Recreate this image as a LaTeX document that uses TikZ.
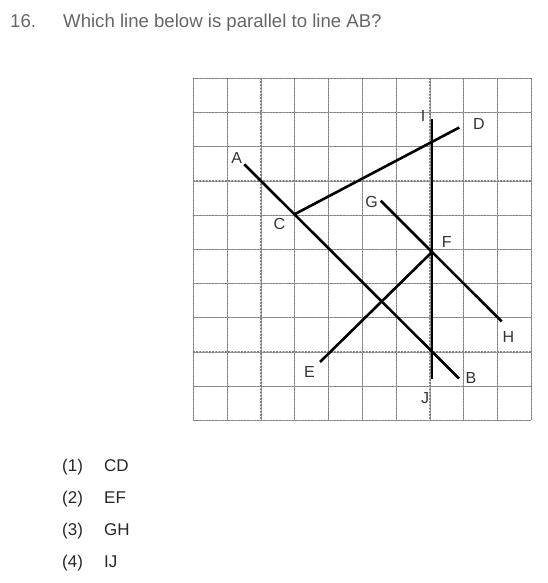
\documentclass[tikz,border=0pt]{standalone}
\usepackage{fontspec}
\setmainfont{Liberation Sans}
\begin{document}
\begin{tikzpicture}[x=1pt,y=-1pt,
  gridline/.style={draw=black!50,line width=1.2pt,dotted,line cap=round},
  gridsolid/.style={draw=black!35,line width=0.7pt},
  seg/.style={draw=black,line width=2.6pt},
  lbl/.style={inner sep=0pt,font=\fontsize{16}{19}\selectfont,text=black!80},
  txt/.style={inner sep=0pt,anchor=base west,font=\fontsize{17}{20}\selectfont},
  ttl/.style={inner sep=0pt,anchor=base west,font=\fontsize{18.6}{22}\selectfont,text=black!60}]
\useasboundingbox (0,0) rectangle (548,583);
% title
\node[ttl] (num) at (10,28) {16.};
\node[ttl] (title) at (63,28) {Which line below is parallel to line AB?};
% grid
\foreach \i in {0,...,10}{
  \draw[gridsolid] ({193.3+33.8*\i},78.3) -- ({193.3+33.8*\i},420.3);
  \draw[gridline] ({193.3+33.8*\i},78.3) -- ({193.3+33.8*\i},420.3);
  \draw[gridsolid] (193.3,{78.3+34.2*\i}) -- (531.3,{78.3+34.2*\i});
  \draw[gridline] (193.3,{78.3+34.2*\i}) -- (531.3,{78.3+34.2*\i});
}
% points
\coordinate (pA) at (244.3,164.3);
\coordinate (pB) at (459,378.5);
\coordinate (pC) at (294.5,214.3);
\coordinate (pD) at (459.3,127.5);
\coordinate (pI) at (432,119.5);
\coordinate (pJ) at (432,378.5);
\coordinate (pG) at (380.7,200.7);
\coordinate (pH) at (501.7,321.5);
\coordinate (pF) at (432,252);
\coordinate (pE) at (320,362);
% segments
\draw[seg] (pA) -- (pB);
\draw[seg] (pC) -- (pD);
\draw[seg] (pI) -- (pJ);
\draw[seg] (pG) -- (pH);
\draw[seg] (pE) -- (pF);
% labels
\node[lbl] (lA) at (236.7,158.3) {A};
\node[lbl] (lB) at (471,378) {B};
\node[lbl] (lC) at (279.5,224) {C};
\node[lbl] (lD) at (479,124) {D};
\node[lbl] (lE) at (309.5,372.3) {E};
\node[lbl] (lF) at (446.7,241.7) {F};
\node[lbl] (lG) at (371.7,201.7) {G};
\node[lbl] (lH) at (508.3,336.7) {H};
\node[lbl] (lI) at (423,115.5) {I};
\node[lbl] (lJ) at (425,398.3) {J};
% options
\node[txt,text=black!85] (o1) at (62,471) {(1)};
\node[txt,text=black!85] (o1t) at (104,471) {CD};
\node[txt,text=black!85] (o2) at (62,503) {(2)};
\node[txt,text=black!85] (o2t) at (104,503) {EF};
\node[txt,text=black!85] (o3) at (62,535) {(3)};
\node[txt,text=black!85] (o3t) at (104,535) {GH};
\node[txt,text=black!85] (o4) at (62,567) {(4)};
\node[txt,text=black!85] (o4t) at (104,567) {IJ};
\end{tikzpicture}
\end{document}
